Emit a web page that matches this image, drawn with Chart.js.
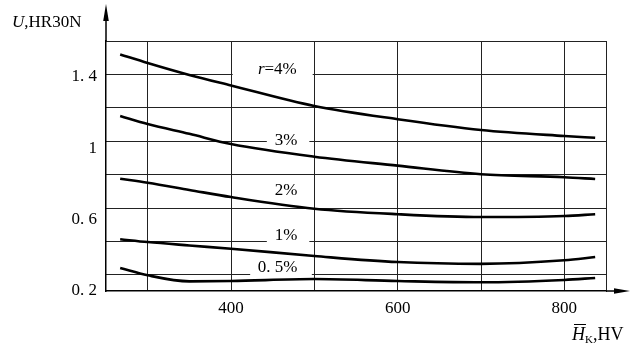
<!DOCTYPE html>
<html>
<head>
<meta charset="utf-8">
<script src="https://cdn.jsdelivr.net/npm/chart.js@4.4.1/dist/chart.umd.min.js"></script>
<style>
  body { margin: 0; background: #fff; }
  canvas { display: block; }
</style>
</head>
<body>
<canvas id="myChart" width="630" height="354"></canvas>
<script>
// hardness HV (x) and wear U, HR30N (y) for each r curve
var hardness = [267, 300, 350, 400, 500, 600, 700, 800, 837];
var r4  = [1.525, 1.477, 1.41, 1.351, 1.236, 1.162, 1.102, 1.068, 1.058];
var r3  = [1.18, 1.135, 1.08, 1.023, 0.952, 0.902, 0.854, 0.837, 0.827];
var r2  = [0.829, 0.806, 0.766, 0.726, 0.661, 0.63, 0.614, 0.62, 0.63];
var r1  = [0.49, 0.474, 0.455, 0.437, 0.396, 0.362, 0.352, 0.372, 0.39];
var r05 = [0.329, 0.288, 0.254, 0.256, 0.267, 0.256, 0.249, 0.262, 0.273];
var curveNames = ["r=4%", "3%", "2%", "1%", "0. 5%"];

var yTickValues = [0.2, 0.6, 1, 1.4];
var yTickLabels = ["0. 2", "0. 6", "1", "1. 4"];
var xGridValues = [300, 400, 500, 600, 700, 800];
var xTickLabels = [400, 600, 800];
var yGridRows = [0, 1, 2, 3, 4, 5, 6, 7];

var SERIF = '"Liberation Serif", "DejaVu Serif", serif';

function pts(ys) {
    return hardness.map(function (h, i) { return {x: h, y: ys[i]}; });
}

// where the curve names sit (data coords) and the x span of the white box behind them
var labelPos = [
    {x: 455, y: 1.438, box: [402, 498]},
    {x: 466, y: 1.04, box: [443, 494]},
    {x: 466, y: 0.763, box: null},
    {x: 466, y: 0.511, box: [443, 494]},
    {x: 456, y: 0.329, box: [423, 497]}
];

function drawName(ctx, text, cx, cy) {
    ctx.textBaseline = "middle";
    ctx.textAlign = "left";
    ctx.font = "17px " + SERIF;
    var w = ctx.measureText(text).width;
    var x0 = cx - w / 2;
    if (text.indexOf("r=") === 0) {
        ctx.font = "italic 17px " + SERIF;
        ctx.fillText("r", x0, cy);
        var rw = ctx.measureText("r").width;
        ctx.font = "17px " + SERIF;
        ctx.fillText(text.slice(1), x0 + rw, cy);
    } else {
        ctx.fillText(text, x0, cy);
    }
}

var decor = {
    id: "decor",
    beforeDatasetsDraw: function (chart) {
        var ctx = chart.ctx, sx = chart.scales.x, sy = chart.scales.y;
        ctx.save();
        ctx.fillStyle = "#fff";
        labelPos.forEach(function (p) {
            if (!p.box) return;
            var x0 = sx.getPixelForValue(p.box[0]), x1 = sx.getPixelForValue(p.box[1]);
            var cy = sy.getPixelForValue(p.y);
            ctx.fillRect(x0, cy - 8, x1 - x0, 16);
        });
        ctx.restore();
    },
    afterDatasetsDraw: function (chart) {
        var ctx = chart.ctx, sx = chart.scales.x, sy = chart.scales.y;
        ctx.save();
        ctx.fillStyle = "#000";
        labelPos.forEach(function (p, i) {
            drawName(ctx, curveNames[i], sx.getPixelForValue(p.x), sy.getPixelForValue(p.y));
        });
        ctx.restore();
    },
    afterDraw: function (chart) {
        var ctx = chart.ctx, a = chart.chartArea;
        ctx.save();
        ctx.strokeStyle = "#000";
        ctx.fillStyle = "#000";
        ctx.lineWidth = 1.5;
        // axis extensions + arrow heads
        ctx.beginPath();
        ctx.moveTo(a.left, a.top);
        ctx.lineTo(a.left, 14);
        ctx.moveTo(a.right, a.bottom);
        ctx.lineTo(620, a.bottom);
        ctx.stroke();
        ctx.beginPath();
        ctx.moveTo(a.left, 4);
        ctx.lineTo(a.left - 2.8, 21);
        ctx.lineTo(a.left + 2.8, 21);
        ctx.closePath();
        ctx.fill();
        ctx.beginPath();
        ctx.moveTo(630, a.bottom);
        ctx.lineTo(614, a.bottom - 2.8);
        ctx.lineTo(614, a.bottom + 2.8);
        ctx.closePath();
        ctx.fill();

        // y title: U,HR30N
        ctx.textBaseline = "alphabetic";
        ctx.textAlign = "left";
        ctx.font = "italic 17px " + SERIF;
        ctx.fillText("U", 12, 27);
        var uw = ctx.measureText("U").width;
        ctx.font = "17px " + SERIF;
        ctx.fillText(",HR30N", 12 + uw, 27);

        // x title: H(bar)K,HV
        ctx.font = "italic 18px " + SERIF;
        ctx.fillText("H", 572, 340);
        var hw = ctx.measureText("H").width;
        ctx.lineWidth = 1;
        ctx.beginPath();
        ctx.moveTo(574, 324.5);
        ctx.lineTo(572 + hw + 1, 324.5);
        ctx.stroke();
        ctx.font = "11px " + SERIF;
        ctx.fillText("K", 572 + hw, 343);
        var kw = ctx.measureText("K").width;
        ctx.font = "18px " + SERIF;
        ctx.fillText(",HV", 572 + hw + kw, 340);
        ctx.restore();
    }
};

function curve(name, ys) {
    return {
        label: name,
        data: pts(ys),
        borderColor: "#000",
        borderWidth: 2.6,
        pointRadius: 0,
        fill: false,
        cubicInterpolationMode: "monotone"
    };
}

new Chart("myChart", {
    type: "line",
    data: {
        datasets: [
            curve(curveNames[0], r4),
            curve(curveNames[1], r3),
            curve(curveNames[2], r2),
            curve(curveNames[3], r1),
            curve(curveNames[4], r05)
        ]
    },
    options: {
        responsive: false,
        animation: false,
        events: [],
        layout: {padding: {top: 41, right: 24, left: 0, bottom: 0}},
        plugins: {legend: {display: false}, tooltip: {enabled: false}},
        scales: {
            x: {
                type: "linear",
                min: 250,
                max: 850,
                afterBuildTicks: function (s) {
                    s.ticks = xGridValues.map(function (v) { return {value: v}; });
                },
                afterFit: function (s) { s.height = 63; },
                grid: {color: "#222", lineWidth: 1, drawTicks: false},
                border: {color: "#000", width: 1.5},
                ticks: {
                    padding: 7,
                    color: "#000",
                    font: {family: SERIF, size: 17},
                    maxRotation: 0,
                    autoSkip: false,
                    callback: function (v) {
                        return xTickLabels.indexOf(v) >= 0 ? String(v) : "";
                    }
                }
            },
            y: {
                type: "linear",
                position: "left",
                min: 0.2,
                max: 1.6,
                afterBuildTicks: function (s) {
                    s.ticks = yTickValues.map(function (v) { return {value: v}; });
                },
                afterFit: function (s) { s.width = 106; },
                grid: {display: false, drawTicks: false},
                border: {color: "#000", width: 1.5},
                ticks: {
                    padding: 9,
                    color: "#000",
                    font: {family: SERIF, size: 17},
                    callback: function (v) {
                        var i = yTickValues.indexOf(v);
                        return i >= 0 ? yTickLabels[i] : "";
                    }
                }
            },
            rows: {
                type: "linear",
                position: "right",
                min: -0.479,
                max: 7,
                afterBuildTicks: function (s) {
                    s.ticks = yGridRows.map(function (v) { return {value: v}; });
                },
                afterFit: function (s) { s.width = 0; },
                grid: {color: "#222", lineWidth: 1, drawTicks: false},
                border: {color: "#222", width: 1},
                ticks: {display: false}
            }
        }
    },
    plugins: [decor]
});
</script>
</body>
</html>
